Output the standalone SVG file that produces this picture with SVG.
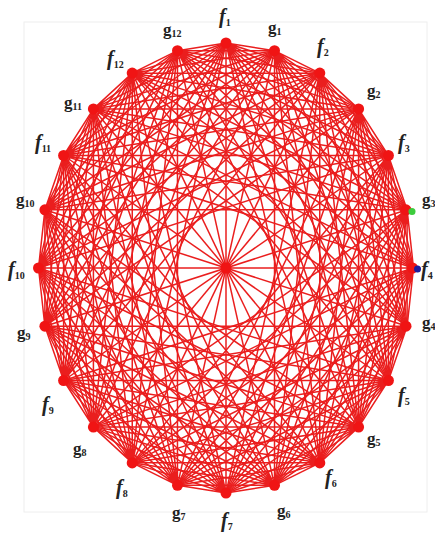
<svg xmlns="http://www.w3.org/2000/svg" xmlns:xlink="http://www.w3.org/1999/xlink" width="435" height="535" viewBox="0 0 435 535">
<style>
.e{fill:none;stroke:#ea1e1e;stroke-width:1.5;vector-effect:non-scaling-stroke}
.n{fill:#f01414}
.lb{font-family:"Liberation Serif","Times New Roman",serif;font-weight:bold;fill:#222;font-size:17px}
.fi{font-style:italic;font-size:20px}
.sb{font-size:10px;font-style:normal}
</style>
<defs>
<path id="star" class="e" d="M0,-225L58.23,-217.33M0,-225L112.5,-194.86M0,-225L159.1,-159.1M0,-225L194.86,-112.5M0,-225L217.33,-58.23M0,-225L225,0M0,-225L217.33,58.23M0,-225L194.86,112.5M0,-225L159.1,159.1M0,-225L112.5,194.86"/>
<path id="dia" class="e" d="M0,-225L0,225"/>
</defs>
<rect x="24" y="22" width="403" height="490" fill="none" stroke="#eeeeee" stroke-width="1"/>
<g id="connectors" transform="translate(226 268) scale(0.8333 1)">
<use href="#star" transform="rotate(0)"/><use href="#star" transform="rotate(15)"/><use href="#star" transform="rotate(30)"/><use href="#star" transform="rotate(45)"/>
<use href="#star" transform="rotate(60)"/><use href="#star" transform="rotate(75)"/><use href="#star" transform="rotate(90)"/><use href="#star" transform="rotate(105)"/>
<use href="#star" transform="rotate(120)"/><use href="#star" transform="rotate(135)"/><use href="#star" transform="rotate(150)"/><use href="#star" transform="rotate(165)"/>
<use href="#star" transform="rotate(180)"/><use href="#star" transform="rotate(195)"/><use href="#star" transform="rotate(210)"/><use href="#star" transform="rotate(225)"/>
<use href="#star" transform="rotate(240)"/><use href="#star" transform="rotate(255)"/><use href="#star" transform="rotate(270)"/><use href="#star" transform="rotate(285)"/>
<use href="#star" transform="rotate(300)"/><use href="#star" transform="rotate(315)"/><use href="#star" transform="rotate(330)"/><use href="#star" transform="rotate(345)"/>
<use href="#dia" transform="rotate(0)"/><use href="#dia" transform="rotate(15)"/><use href="#dia" transform="rotate(30)"/><use href="#dia" transform="rotate(45)"/>
<use href="#dia" transform="rotate(60)"/><use href="#dia" transform="rotate(75)"/><use href="#dia" transform="rotate(90)"/><use href="#dia" transform="rotate(105)"/>
<use href="#dia" transform="rotate(120)"/><use href="#dia" transform="rotate(135)"/><use href="#dia" transform="rotate(150)"/><use href="#dia" transform="rotate(165)"/>
</g>
<g id="center"><circle class="n" cx="226" cy="268" r="5.5"/></g>
<g id="f1"><circle class="n" cx="226" cy="43" r="5.5"/><text class="lb fi" x="219" y="23">f<tspan class="sb" dy="3">1</tspan></text></g>
<g id="g1"><circle class="n" cx="274.5" cy="50.7" r="5.5"/><text class="lb" x="268" y="33">g<tspan class="sb" dy="2">1</tspan></text></g>
<g id="f2"><circle class="n" cx="319.8" cy="73.1" r="5.5"/><text class="lb fi" x="317" y="53">f<tspan class="sb" dy="3">2</tspan></text></g>
<g id="g2"><circle class="n" cx="358.6" cy="108.9" r="5.5"/><text class="lb" x="367" y="96">g<tspan class="sb" dy="2">2</tspan></text></g>
<g id="f3"><circle class="n" cx="388.4" cy="155.5" r="5.5"/><text class="lb fi" x="398" y="149">f<tspan class="sb" dy="3">3</tspan></text></g>
<g id="g3"><circle class="n" cx="406" cy="209.8" r="5.5"/><circle cx="412" cy="211.5" r="3.5" fill="#3ccc3c"/><text class="lb" x="422" y="205">g<tspan class="sb" dy="2">3</tspan></text></g>
<g id="f4"><circle class="n" cx="412.5" cy="268" r="5.5"/><circle cx="417.5" cy="269" r="3.5" fill="#1c1c9c"/><text class="lb fi" x="421" y="276">f<tspan class="sb" dy="3">4</tspan></text></g>
<g id="g4"><circle class="n" cx="406" cy="326.2" r="5.5"/><text class="lb" x="422" y="328">g<tspan class="sb" dy="2">4</tspan></text></g>
<g id="f5"><circle class="n" cx="388.4" cy="380.5" r="5.5"/><text class="lb fi" x="398" y="402">f<tspan class="sb" dy="3">5</tspan></text></g>
<g id="g5"><circle class="n" cx="358.6" cy="427.1" r="5.5"/><text class="lb" x="367" y="444">g<tspan class="sb" dy="2">5</tspan></text></g>
<g id="f6"><circle class="n" cx="319.8" cy="462.9" r="5.5"/><text class="lb fi" x="325" y="484">f<tspan class="sb" dy="3">6</tspan></text></g>
<g id="g6"><circle class="n" cx="274.5" cy="485.3" r="5.5"/><text class="lb" x="277" y="516">g<tspan class="sb" dy="2">6</tspan></text></g>
<g id="f7"><circle class="n" cx="226" cy="493" r="5.5"/><text class="lb fi" x="221" y="527">f<tspan class="sb" dy="3">7</tspan></text></g>
<g id="g7"><circle class="n" cx="177.5" cy="485.3" r="5.5"/><text class="lb" x="172" y="518">g<tspan class="sb" dy="2">7</tspan></text></g>
<g id="f8"><circle class="n" cx="132.2" cy="462.9" r="5.5"/><text class="lb fi" x="116" y="494">f<tspan class="sb" dy="3">8</tspan></text></g>
<g id="g8"><circle class="n" cx="93.4" cy="427.1" r="5.5"/><text class="lb" x="73" y="454">g<tspan class="sb" dy="2">8</tspan></text></g>
<g id="f9"><circle class="n" cx="63.6" cy="380.5" r="5.5"/><text class="lb fi" x="42" y="411">f<tspan class="sb" dy="3">9</tspan></text></g>
<g id="g9"><circle class="n" cx="44.9" cy="326.2" r="5.5"/><text class="lb" x="17" y="338">g<tspan class="sb" dy="2">9</tspan></text></g>
<g id="f10"><circle class="n" cx="38.5" cy="268" r="5.5"/><text class="lb fi" x="8" y="276">f<tspan class="sb" dy="3">10</tspan></text></g>
<g id="g10"><circle class="n" cx="44.9" cy="209.8" r="5.5"/><text class="lb" x="16" y="205">g<tspan class="sb" dy="2">10</tspan></text></g>
<g id="f11"><circle class="n" cx="63.6" cy="155.5" r="5.5"/><text class="lb fi" x="35" y="149">f<tspan class="sb" dy="3">11</tspan></text></g>
<g id="g11"><circle class="n" cx="93.4" cy="108.9" r="5.5"/><text class="lb" x="64" y="108">g<tspan class="sb" dy="2">11</tspan></text></g>
<g id="f12"><circle class="n" cx="132.2" cy="73.1" r="5.5"/><text class="lb fi" x="107" y="65">f<tspan class="sb" dy="3">12</tspan></text></g>
<g id="g12"><circle class="n" cx="177.5" cy="50.7" r="5.5"/><text class="lb" x="163" y="35">g<tspan class="sb" dy="2">12</tspan></text></g>
</svg>
